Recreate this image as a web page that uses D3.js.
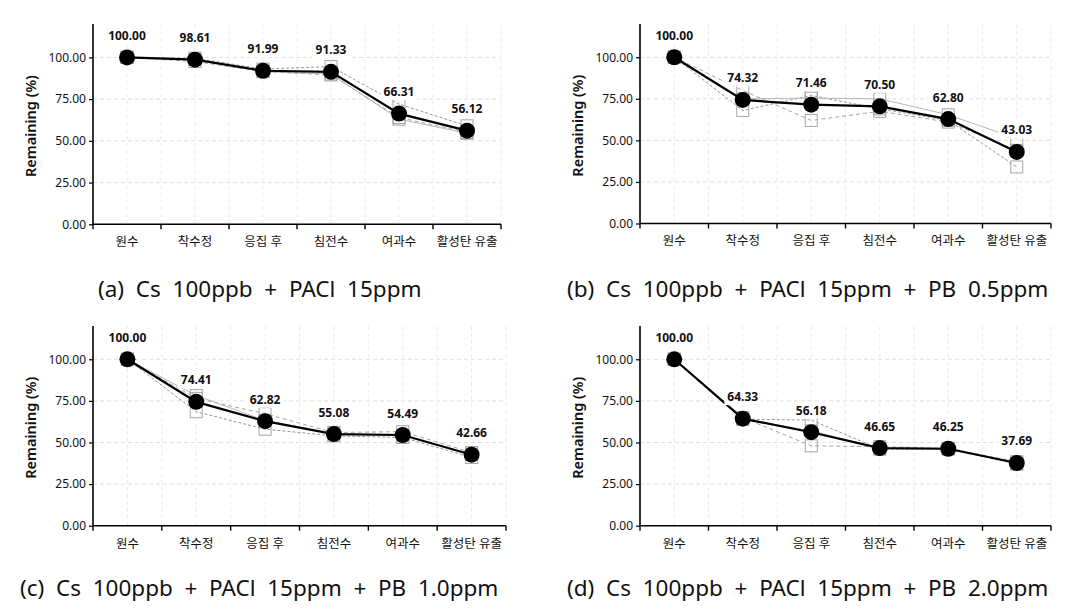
<!DOCTYPE html>
<html><head><meta charset="utf-8">
<script src="https://cdn.jsdelivr.net/npm/d3@7"></script>
<style>
body{margin:0;background:#fff;}
svg{display:block;}
</style></head>
<body>
<svg id="c" width="1066" height="610"></svg>
<script>
const categories = ["원수", "착수정", "응집 후", "침전수", "여과수", "활성탄 유출"];
const yTicks = [0, 25, 50, 75, 100];
const captions = [
  "(a)  Cs  100ppb  +  PACl  15ppm",
  "(b)  Cs  100ppb  +  PACl  15ppm  +  PB  0.5ppm",
  "(c)  Cs  100ppb  +  PACl  15ppm  +  PB  1.0ppm",
  "(d)  Cs  100ppb  +  PACl  15ppm  +  PB  2.0ppm"
];
// mean values
const meanA = [100.00, 98.61, 91.99, 91.33, 66.31, 56.12];
const meanB = [100.00, 74.32, 71.46, 70.50, 62.80, 43.03];
const meanC = [100.00, 74.41, 62.82, 55.08, 54.49, 42.66];
const meanD = [100.00, 64.33, 56.18, 46.65, 46.25, 37.69];
// replicate runs (estimated)
const repA1 = [100, 99.5, 93.0, 94.5, 72.0, 59.0];
const repA2 = [100, 97.5, 91.5, 89.5, 64.0, 55.0];
const repA3 = [100, 98.8, 91.5, 90.0, 63.0, 54.5];
const repB1 = [100, 68.0, 77.0, 69.0, 62.0, 34.0];
const repB2 = [100, 80.0, 62.0, 67.5, 61.0, 44.0];
const repB3 = [100, 75.0, 75.4, 75.0, 65.4, 51.0];
const repC1 = [100, 68.5, 58.0, 54.0, 53.0, 41.0];
const repC2 = [100, 76.5, 67.3, 56.0, 56.5, 44.0];
const repC3 = [100, 78.2, 63.2, 55.2, 54.0, 43.0];
const repD1 = [100, 64.0, 63.5, 46.0, 46.0, 37.0];
const repD2 = [100, 65.0, 48.0, 47.5, 46.5, 38.5];
const repD3 = [100, 64.0, 57.0, 46.5, 46.3, 37.6];

const panels = [
  {mean: meanA, reps: [repA1, repA2, repA3], cap: captions[0], L: 93, R: 501, B: 224.3, T: 24, capX: 98, capY: 288},
  {mean: meanB, reps: [repB1, repB2, repB3], cap: captions[1], L: 640, R: 1051, B: 223.5, T: 24, capX: 567, capY: 288},
  {mean: meanC, reps: [repC1, repC2, repC3], cap: captions[2], L: 93, R: 506, B: 525.7, T: 326, capX: 20, capY: 587},
  {mean: meanD, reps: [repD1, repD2, repD3], cap: captions[3], L: 640, R: 1051, B: 525.7, T: 326, capX: 567, capY: 587}
];

const svg = d3.select("#c");
const font = "'Noto Sans','Noto Sans CJK KR',sans-serif";
const repStyles = [
  {stroke: "#8c8c8c", dash: "3,2", w: 0.9},
  {stroke: "#9a9a9a", dash: "4,3", w: 0.9},
  {stroke: "#b0b0b0", dash: null, w: 0.9}
];

panels.forEach(p => {
  const g = svg.append("g");
  const x = d3.scaleBand().domain(categories).range([p.L, p.R]).paddingInner(0).paddingOuter(0);
  const y = d3.scaleLinear().domain([0, 120]).range([p.B, p.T]);
  const cx = c => x(c) + x.bandwidth() / 2;

  // gridlines
  yTicks.filter(v => v > 0).forEach(v => {
    g.append("line").attr("x1", p.L).attr("x2", p.R).attr("y1", y(v)).attr("y2", y(v))
      .attr("stroke", "#e0e0e0").attr("stroke-width", 1).attr("stroke-dasharray", "4,3");
  });
  categories.forEach((c, i) => {
    [x(c), cx(c)].forEach((xv, k) => {
      if (k === 0 && i === 0) return;
      g.append("line").attr("x1", xv).attr("x2", xv).attr("y1", p.T).attr("y2", p.B)
        .attr("stroke", "#ebebeb").attr("stroke-width", 1).attr("stroke-dasharray", "4,3");
    });
  });
  g.append("line").attr("x1", p.R).attr("x2", p.R).attr("y1", p.T).attr("y2", p.B)
    .attr("stroke", "#ebebeb").attr("stroke-dasharray", "4,3");

  // axes
  const ya = d3.axisLeft(y).tickValues(yTicks).tickFormat(d3.format(".2f")).tickSize(4).tickSizeOuter(0);
  const yg = g.append("g").attr("transform", `translate(${p.L},0)`).call(ya);
  yg.select(".domain").attr("stroke", "#000").attr("stroke-width", 1.6).attr("d", `M0,${p.B}V${p.T}`);
  yg.selectAll(".tick line").attr("stroke", "#000").attr("stroke-width", 1.2);
  yg.selectAll(".tick text").attr("font-family", font).attr("font-size", 12).attr("fill", "#111").attr("x", -7);

  const xa = d3.axisBottom(x).tickSize(0);
  const xg = g.append("g").attr("transform", `translate(0,${p.B})`).call(xa);
  xg.select(".domain").attr("stroke", "#000").attr("stroke-width", 1.6).attr("d", `M${p.L},0H${p.R}`);
  xg.selectAll(".tick text").attr("font-family", font).attr("font-size", 12.5).attr("fill", "#111")
    .attr("y", 13).attr("dy", "0.71em");
  // band boundary ticks
  const bounds = categories.map(c => x(c)).concat([p.R]);
  bounds.forEach(b => {
    g.append("line").attr("x1", b).attr("x2", b).attr("y1", p.B).attr("y2", p.B + 5)
      .attr("stroke", "#000").attr("stroke-width", 1.4);
  });

  // axis title
  g.append("text").attr("transform", `translate(${p.L - 63},${(p.T + p.B) / 2 + 2}) rotate(-90)`)
    .attr("text-anchor", "middle").attr("dominant-baseline", "central")
    .attr("font-family", font).attr("font-size", 14.5).attr("font-weight", 600).attr("fill", "#111")
    .text("Remaining (%)");

  // replicate lines
  const line = d3.line().x((d, i) => cx(categories[i])).y(d => y(d));
  p.reps.forEach((r, k) => {
    const s = repStyles[k];
    g.append("path").attr("d", line(r)).attr("fill", "none").attr("stroke", s.stroke)
      .attr("stroke-width", s.w).attr("stroke-dasharray", s.dash);
  });
  p.reps.forEach(r => {
    g.selectAll(null).data(r).enter().append("rect")
      .attr("x", (d, i) => cx(categories[i]) - 6).attr("y", d => y(d) - 6)
      .attr("width", 12).attr("height", 12)
      .attr("fill", "none").attr("stroke", "#a6a6a6").attr("stroke-width", 1);
  });

  // mean line
  g.append("path").attr("d", line(p.mean)).attr("fill", "none").attr("stroke", "#000").attr("stroke-width", 2.2);
  g.selectAll(null).data(p.mean).enter().append("circle")
    .attr("cx", (d, i) => cx(categories[i])).attr("cy", d => y(d)).attr("r", 8).attr("fill", "#000");

  // labels
  p.mean.forEach((v, i) => {
    const lx = cx(categories[i]), ly = y(v) - 22;
    const t = g.append("text").attr("x", lx).attr("y", ly).attr("text-anchor", "middle")
      .attr("dominant-baseline", "central").attr("font-family", font).attr("font-size", 12)
      .attr("font-weight", "bold").attr("fill", "#111").text(v.toFixed(2));
    const bb = t.node().getBBox();
    g.insert("rect", () => t.node()).attr("x", bb.x - 3).attr("y", bb.y).attr("width", bb.width + 6)
      .attr("height", bb.height).attr("fill", "#fff");
  });

  // caption
  svg.append("text").attr("x", p.capX).attr("y", p.capY).attr("dominant-baseline", "central")
    .attr("font-family", font).attr("font-size", 22.5).attr("fill", "#111")
    .attr("xml:space", "preserve").style("white-space", "pre").text(p.cap);
});
</script>
</body></html>
